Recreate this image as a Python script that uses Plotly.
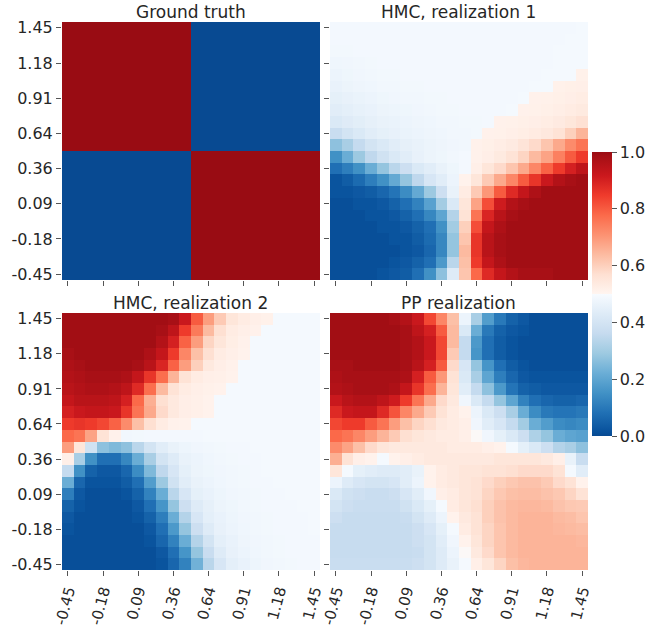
import plotly.graph_objects as go

# ---------------- data ----------------
tick_labels = ["-0.45", "-0.18", "0.09", "0.36", "0.64", "0.91", "1.18", "1.45"]
tick_positions = [0, 3, 6, 9, 12, 15, 18, 21]
n_cells = 22

panel_titles = ["Ground truth", "HMC, realization 1", "HMC, realization 2", "PP realization"]

# rows listed top (y=1.45) to bottom (y=-0.45); 1 = class 1, 0 = class 0
ground_truth_rows = [
    "1111111111100000000000",
    "1111111111100000000000",
    "1111111111100000000000",
    "1111111111100000000000",
    "1111111111100000000000",
    "1111111111100000000000",
    "1111111111100000000000",
    "1111111111100000000000",
    "1111111111100000000000",
    "1111111111100000000000",
    "1111111111100000000000",
    "0000000000011111111111",
    "0000000000011111111111",
    "0000000000011111111111",
    "0000000000011111111111",
    "0000000000011111111111",
    "0000000000011111111111",
    "0000000000011111111111",
    "0000000000011111111111",
    "0000000000011111111111",
    "0000000000011111111111",
    "0000000000011111111111",
]

# probabilities in per-mille, rows top -> bottom
hmc1_rows = [
    "488 488 488 488 488 488 488 488 488 488 488 488 488 488 488 488 488 488 488 488 488 490",
    "488 488 488 488 488 488 488 488 488 488 488 488 488 488 488 488 488 488 488 488 490 490",
    "486 486 488 488 488 488 488 488 488 488 488 488 488 488 488 488 488 488 488 490 490 490",
    "478 480 484 486 488 488 488 488 488 488 488 488 488 488 488 488 488 488 488 490 490 490",
    "470 476 480 482 486 486 488 488 488 488 488 488 488 488 488 488 488 488 490 490 490 515",
    "462 468 474 478 482 484 486 486 488 488 488 488 488 488 488 488 488 490 490 515 518 520",
    "450 458 464 470 476 480 482 484 486 486 488 488 488 488 488 488 490 512 514 518 522 528",
    "440 448 455 462 468 472 476 480 484 486 486 488 488 488 488 490 512 515 518 524 530 538",
    "420 432 442 452 460 465 470 474 478 482 484 486 486 488 512 514 518 522 528 536 548 565",
    "370 400 420 438 450 458 464 470 474 478 482 484 486 512 515 520 525 532 542 560 600 650",
    "270 310 360 400 420 440 452 460 468 474 480 484 512 518 526 536 556 580 620 670 720 760",
    "150 220 290 350 390 420 440 458 468 476 484 488 512 522 538 560 590 640 680 740 800 850",
    "080 110 150 220 280 340 380 420 440 460 476 488 520 550 580 620 670 730 790 850 900 940",
    "020 040 070 110 150 210 280 350 410 440 470 510 550 610 670 730 800 860 920 960 980 990",
    "020 020 030 040 060 090 140 210 290 380 460 530 610 700 800 880 930 970 990 990 990 990",
    "010 010 020 020 030 050 080 120 190 300 420 550 680 820 910 960 980 990 990 990 990 990",
    "010 010 010 020 020 030 050 080 130 200 330 560 760 890 950 980 990 990 990 990 990 990",
    "010 010 010 010 020 020 030 050 080 150 300 600 820 930 970 990 990 990 990 990 990 990",
    "010 010 010 010 010 020 020 040 070 130 280 620 860 950 980 990 990 990 990 990 990 990",
    "010 010 010 010 010 010 020 030 060 130 280 640 860 950 980 990 990 990 990 990 990 990",
    "010 010 010 010 010 020 030 050 080 170 340 630 850 930 970 990 990 990 990 990 990 990",
    "010 010 010 010 020 030 040 080 150 270 430 620 780 880 930 960 980 980 980 990 990 990",
]

hmc2_rows = [
    "990 990 990 990 990 990 990 990 990 980 920 800 690 610 550 530 520 515 492 492 492 492",
    "990 990 990 990 990 990 990 990 980 940 850 750 640 570 530 520 512 492 492 492 492 492",
    "990 990 990 990 990 990 990 990 960 900 790 690 590 550 525 512 492 492 492 492 492 492",
    "980 990 990 990 990 990 990 970 930 850 730 630 570 530 520 510 492 492 492 492 492 492",
    "970 980 990 990 990 990 980 950 890 790 690 600 540 522 512 492 492 492 492 492 492 492",
    "960 970 980 980 980 970 930 860 770 650 560 530 520 516 510 492 492 492 492 492 492 492",
    "950 960 970 970 960 940 880 770 640 560 530 520 515 510 492 492 492 492 492 492 492 492",
    "930 950 950 950 940 900 780 660 570 540 522 516 510 492 492 492 492 492 492 492 492 492",
    "900 920 930 930 920 860 760 670 580 540 522 516 510 492 492 492 492 492 492 492 492 492",
    "850 860 850 830 790 720 630 570 530 512 510 490 490 490 492 492 492 492 492 492 492 492",
    "780 760 680 560 512 484 486 488 488 488 488 488 490 490 490 492 492 492 492 492 492 492",
    "690 550 390 270 250 270 340 400 440 460 472 480 484 486 488 488 490 490 490 490 490 490",
    "520 310 150 080 080 130 220 310 400 430 460 470 478 482 486 488 488 490 490 490 490 490",
    "360 150 050 030 030 060 140 250 350 410 450 468 476 480 484 486 488 490 490 490 490 490",
    "220 060 020 020 020 040 080 180 290 390 440 460 470 478 482 486 488 488 490 490 490 490",
    "110 030 010 010 010 020 050 120 220 340 410 450 462 472 480 484 486 488 488 490 490 490",
    "050 020 010 010 010 010 030 080 160 280 380 430 452 468 476 482 486 488 488 488 490 490",
    "030 010 010 010 010 010 020 050 110 220 330 410 448 462 472 480 484 486 488 488 488 490",
    "020 010 010 010 010 010 010 030 080 170 280 380 430 458 470 478 482 486 488 488 488 490",
    "010 010 010 010 010 010 010 020 060 120 220 330 400 448 462 474 480 484 486 488 488 488",
    "010 010 010 010 010 010 010 010 030 080 160 280 370 430 458 470 478 482 486 488 488 488",
    "010 010 010 010 010 010 010 010 020 060 120 230 340 410 448 462 472 480 484 486 488 488",
]

pp_rows = [
    "990 990 990 990 990 980 960 920 830 730 630 470 310 180 100 050 030 010 010 010 010 010",
    "990 990 990 990 990 990 980 940 900 800 640 420 220 100 050 030 020 010 010 010 010 010",
    "990 990 990 990 990 990 980 960 920 830 640 360 170 080 040 020 010 010 010 010 010 010",
    "990 990 990 990 990 990 980 960 920 830 610 360 160 080 040 020 010 010 010 010 010 010",
    "980 980 990 990 990 990 980 950 900 800 580 410 280 160 080 040 020 010 010 010 010 010",
    "970 980 980 980 980 980 970 900 800 700 560 420 310 200 110 060 030 020 020 020 020 020",
    "960 970 980 980 980 970 930 860 770 650 550 440 360 270 170 090 050 040 030 030 030 030",
    "920 950 960 960 940 910 850 760 670 580 540 480 420 360 280 200 120 080 060 050 050 060",
    "880 920 930 930 880 810 730 670 610 560 530 510 470 420 380 310 220 140 100 090 090 100",
    "830 850 850 800 760 690 630 590 570 540 530 520 480 440 410 360 300 220 180 140 130 140",
    "780 760 730 690 650 610 570 550 540 530 530 520 500 480 450 420 380 320 280 220 200 190",
    "720 680 630 580 550 540 540 540 540 540 530 530 530 520 510 490 450 420 380 330 310 270",
    "660 560 520 510 492 510 520 530 540 540 540 540 540 540 550 550 550 550 540 520 460 370",
    "550 492 450 440 430 430 440 460 510 530 540 550 550 560 560 570 580 580 580 560 492 440",
    "470 430 410 400 400 410 440 470 510 530 540 550 560 580 600 615 625 625 610 580 560 510",
    "420 390 380 370 370 380 410 440 480 520 530 550 560 590 615 630 635 635 625 615 590 560",
    "400 380 370 370 370 370 390 420 450 492 530 550 570 600 625 640 645 645 640 625 615 610",
    "380 365 365 365 365 365 370 400 430 470 510 540 560 600 625 640 650 650 650 640 635 620",
    "365 365 365 365 365 365 365 380 410 450 492 530 560 590 620 640 650 650 650 645 640 635",
    "365 365 365 365 365 365 365 380 400 440 480 510 550 590 620 640 650 650 650 650 650 645",
    "365 365 365 365 365 365 365 370 400 430 470 500 540 580 620 640 650 650 650 650 650 650",
    "370 370 370 370 370 370 370 380 400 430 460 492 520 550 590 630 645 650 650 650 650 650",
]

colorbar_ticks = [0.0, 0.2, 0.4, 0.6, 0.8, 1.0]
colorbar_ticktext = ["0.0", "0.2", "0.4", "0.6", "0.8", "1.0"]


def parse_permille(rows):
    grid = [[int(v) / 1000.0 for v in r.split()] for r in rows]
    return grid[::-1]  # bottom row first


def parse_bits(rows):
    grid = [[float(c) for c in r] for r in rows]
    return grid[::-1]


grids = [parse_bits(ground_truth_rows), parse_permille(hmc1_rows),
         parse_permille(hmc2_rows), parse_permille(pp_rows)]

# ---------------- colour scale (Blues below 0.5, Reds above) ----------------
colorscale = [
    [0.0, "#084a92"], [0.0139, "#08519c"], [0.0833, "#2171b5"], [0.1528, "#4292c6"],
    [0.2222, "#6baed6"], [0.2917, "#9ecae1"], [0.3611, "#c6dbef"], [0.4306, "#deebf7"],
    [0.4995, "#f7fbff"], [0.5005, "#fff5f0"], [0.5694, "#fee0d2"], [0.6389, "#fcbba1"],
    [0.7083, "#fc9272"], [0.7778, "#fb6a4a"], [0.8472, "#ef3b2c"], [0.9167, "#cb181d"],
    [0.9861, "#a50f15"], [1.0, "#990c13"],
]

# ---------------- layout geometry ----------------
W, H = 666, 626
FONT = "DejaVu Sans"
TXT = "#262626"
TICKC = "#555555"

# pixel boxes (left, right, top, bottom)
boxes = [(62, 320, 22, 280), (330, 588, 22, 280), (62, 320, 313, 570), (330, 588, 313, 570)]

fig = go.Figure()
idx = list(range(n_cells))

layout = dict(
    width=W, height=H, margin=dict(l=0, r=0, t=0, b=0),
    paper_bgcolor="white", plot_bgcolor="white",
    font=dict(family=FONT, size=16, color=TXT),
    coloraxis=dict(
        colorscale=colorscale, cmin=0, cmax=1,
        colorbar=dict(
            x=592 / W, xanchor="left", xpad=0, ypad=0,
            y=1 - 294 / H, yanchor="middle",
            lenmode="pixels", len=284, thickness=20,
            thicknessmode="pixels", outlinewidth=0,
            tickvals=colorbar_ticks, ticktext=colorbar_ticktext,
            ticks="outside", ticklen=5, tickcolor=TICKC,
            tickfont=dict(family=FONT, size=16, color=TXT),
        ),
    ),
    showlegend=False,
)

annotations = []
for k, (grid, title, box) in enumerate(zip(grids, panel_titles, boxes)):
    n = "" if k == 0 else str(k + 1)
    l, r, t, b = box
    fig.add_trace(go.Heatmap(
        z=grid, x=idx, y=idx, coloraxis="coloraxis",
        xaxis="x" + n, yaxis="y" + n, hoverinfo="skip",
    ))
    bottom_row = k >= 2
    left_col = k % 2 == 0
    layout["xaxis" + n] = dict(
        domain=[l / W, r / W], anchor="y" + n, range=[-0.5, n_cells - 0.5],
        tickmode="array", tickvals=tick_positions, ticktext=tick_labels,
        showticklabels=bottom_row, tickangle=-75,
        ticks="outside", ticklen=5, tickwidth=1, tickcolor=TICKC,
        tickfont=dict(family=FONT, size=15, color=TXT),
        showgrid=False, zeroline=False, showline=False, automargin=False,
    )
    layout["yaxis" + n] = dict(
        domain=[1 - b / H, 1 - t / H], anchor="x" + n, range=[-0.5, n_cells - 0.5],
        tickmode="array", tickvals=tick_positions, ticktext=tick_labels,
        showticklabels=left_col,
        ticks="outside", ticklen=5, tickwidth=1, tickcolor=TICKC,
        tickfont=dict(family=FONT, size=16, color=TXT),
        showgrid=False, zeroline=False, showline=False, automargin=False,
    )
    annotations.append(dict(
        text=title, x=(l + r) / 2 / W, y=1 - (t + 2) / H, xref="paper", yref="paper",
        xanchor="center", yanchor="bottom", showarrow=False,
        font=dict(family=FONT, size=17, color=TXT),
    ))

layout["annotations"] = annotations
fig.update_layout(**layout)
fig.write_html("out.html", config={"displayModeBar": False},
               post_script="document.body.style.margin='0px';")
